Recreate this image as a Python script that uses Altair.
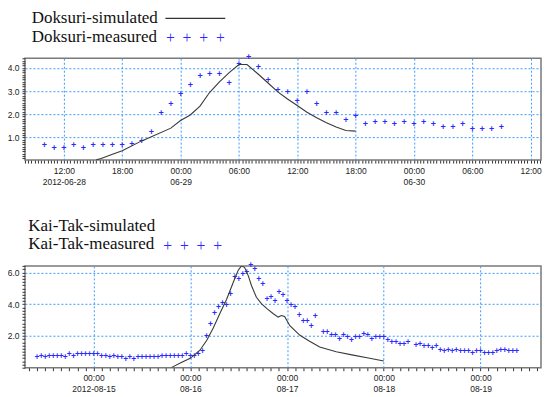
import altair as alt
import pandas as pd

# ---------------- data ----------------
# Doksuri (top panel): hourly measured values starting 2012-06-28 10:00
dk_meas_start = "2012-06-28 10:00"
dk_meas_values = [0.62, 0.49, 0.49, 0.62, 0.49, 0.62, 0.62, 0.62, 0.62, 0.69, 0.82, 1.20, 2.02, 2.40,
                  2.82, 3.22, 3.62, 3.71, 3.71, 3.29, 4.12, 4.42, 4.00, 3.42, 3.00, 2.92, 2.52, 2.92,
                  2.40, 2.02, 2.02, 1.70, 1.90, 1.53, 1.62, 1.62, 1.53, 1.62,
                  1.53, 1.62, 1.53, 1.40, 1.40, 1.53, 1.32, 1.32, 1.32, 1.40]
dk_sim_times = ["2012-06-28 15:20", "2012-06-28 15:50", "2012-06-28 17:00", "2012-06-28 18:00",
                "2012-06-28 20:00", "2012-06-28 21:00", "2012-06-28 23:00", "2012-06-29 00:00",
                "2012-06-29 01:00", "2012-06-29 02:00", "2012-06-29 03:00", "2012-06-29 04:00",
                "2012-06-29 05:00", "2012-06-29 06:00", "2012-06-29 06:50", "2012-06-29 08:00",
                "2012-06-29 09:00", "2012-06-29 10:00", "2012-06-29 11:00", "2012-06-29 12:00",
                "2012-06-29 13:00", "2012-06-29 14:00", "2012-06-29 15:00", "2012-06-29 16:00",
                "2012-06-29 17:00", "2012-06-29 18:00"]
dk_sim_values = [0.03, 0.09, 0.27, 0.42, 0.85, 1.03, 1.40, 1.73, 1.97, 2.35, 2.95, 3.40, 3.80,
                 4.15, 4.15, 3.73, 3.35, 2.97, 2.66, 2.38, 2.09, 1.85, 1.63, 1.45, 1.30, 1.27]

# Kai-Tak (bottom panel): hourly measured values starting 2012-08-14 10:00 (None = missing)
kt_meas_start = "2012-08-14 10:00"
kt_meas_values = [0.59, 0.67, 0.59, 0.67, 0.67, 0.67, 0.67, 0.59, 0.79, 0.67, 0.79, 0.79, 0.79, 0.79,
                  0.79, 0.79, 0.67, 0.67, 0.59, 0.67, 0.59, 0.59, 0.50, 0.59, 0.50, 0.59, 0.59, 0.59,
                  0.59, 0.59, 0.59, 0.67, 0.67, 0.67, 0.67, 0.67, 0.67, 0.79, 0.67, 0.67, 0.79, 0.96,
                  1.92, 2.71, 3.40, 3.75, 4.00, 3.92, 4.59, 5.67, 5.54, 5.84, 6.00, 6.42, 6.13, 5.54,
                  5.21, 4.29, 4.42, 4.13, 4.71, 4.50, 4.13, 3.92, 3.77, 3.29, 2.88, 2.88, 2.58, 3.19,
                  None, 2.21, 2.21, 2.00, 2.00, 1.75, 2.00, 1.88, 1.67, 1.88, 1.88, 2.08, 2.00, 1.75,
                  1.88, 1.88, 1.88, 1.67, 1.58, 1.58, 1.46, 1.46, 1.58, None, 1.38, 1.46, 1.29, 1.29,
                  1.17, 1.29, 1.08, 0.96, 1.08, 0.96, 1.08, 0.96, 0.96, 0.96, 0.88, 0.96, 0.96, 0.88,
                  0.88, 0.88, 0.96, 1.08, 1.08, 0.96, 0.96, 0.96]
kt_sim_base = "2012-08-15 00:00"
kt_sim_hours = [19.4, 21.9, 24.0, 26.4, 28.1, 29.7, 31.4, 33.0, 34.7, 35.9, 36.7, 37.5, 38.4, 39.2,
                40.4, 41.7, 43.1, 44.6, 45.8, 46.6, 47.4, 48.7, 51.2, 53.6, 56.1, 60.2, 64.4, 68.5, 72.0]
kt_sim_values = [0.02, 0.34, 0.59, 1.10, 1.73, 2.50, 3.45, 4.30, 5.40, 6.15, 6.42, 6.31, 5.79, 5.17,
                 4.44, 4.02, 3.71, 3.40, 3.19, 3.29, 3.23, 2.65, 2.04, 1.67, 1.31, 1.00, 0.79, 0.59, 0.42]

legend_top = ["Doksuri-simulated", "Doksuri-measured"]
legend_bottom = ["Kai-Tak-simulated", "Kai-Tak-measured"]
cross_text = "+\u00a0\u00a0+\u00a0\u00a0+\u00a0\u00a0+"

# ---------------- frames ----------------
FMT = "%Y-%m-%dT%H:%M:%S"
dk_meas = pd.DataFrame({"t": pd.date_range(dk_meas_start, periods=len(dk_meas_values), freq="h"),
                        "v": dk_meas_values}).dropna()
dk_meas["t"] = dk_meas["t"].dt.strftime(FMT)
dk_sim = pd.DataFrame({"t": pd.to_datetime(dk_sim_times).strftime(FMT), "v": dk_sim_values})
kt_meas = pd.DataFrame({"t": pd.date_range(kt_meas_start, periods=len(kt_meas_values), freq="h"),
                        "v": kt_meas_values}).dropna()
kt_meas["t"] = kt_meas["t"].dt.strftime(FMT)
kt_sim = pd.DataFrame({"t": (pd.Timestamp(kt_sim_base) + pd.to_timedelta(kt_sim_hours, unit="h"))
                       .strftime(FMT), "v": kt_sim_values})

# ---------------- style ----------------
W, H = 517, 102
BLUE = "#2a2aff"
GRID = "#3d9bff"
LABEL_FONT = "Liberation Sans"
SERIF = "Liberation Serif"


def dt_list(start, end, freq):
    return [alt.DateTime(year=t.year, month=t.month, date=t.day, hours=t.hour, minutes=t.minute)
            for t in pd.date_range(start, end, freq=freq)]


def cond(test, a, b):
    return {"condition": {"test": test, "value": a}, "value": b}


def x_axis(values, major_test, label_expr):
    return alt.Axis(
        title=None, domain=False, values=values, tickCount=1000,
        labelExpr=label_expr, labelOverlap=False, labelFlush=False,
        labelFont=LABEL_FONT, labelFontSize=8.5, labelColor="#222", labelPadding=3,
        labelLineHeight=11, tickColor="#333", tickSize=3,
        grid=True, gridColor=GRID, gridDash=[2, 2], gridWidth=1,
        gridOpacity=cond(major_test, 1, 0),
    )


def y_axis(count, major_test):
    return alt.Axis(
        title=None, domain=False, tickCount=count,
        labelExpr=f"({major_test}) ? format(datum.value, '.1f') : ''",
        labelOverlap=False, labelFlush=False,
        labelFont=LABEL_FONT, labelFontSize=8.5, labelColor="#222", labelPadding=3,
        tickColor="#333", tickSize=3,
        grid=True, gridColor=GRID, gridDash=[2, 2], gridWidth=1,
        gridOpacity=cond(major_test, 1, 0),
    )


def one(text):
    return alt.Chart(pd.DataFrame({"label": [text]}))


def panel(meas, sim, xdom, xaxis, ydom, yaxis, msize, labels, show_line, lx, ly1, ly2, cx, cy):
    xs = alt.Scale(domain=xdom)
    ys = alt.Scale(domain=ydom, nice=False, zero=False)
    pts = alt.Chart(meas).mark_text(text="+", font=LABEL_FONT, fontSize=msize, fontWeight="bold",
                                    color=BLUE, baseline="middle", align="center", dy=-1).encode(
        x=alt.X("t:T", scale=xs, axis=xaxis),
        y=alt.Y("v:Q", scale=ys, axis=yaxis),
    )
    line = alt.Chart(sim).mark_line(color="#3a3a3a", strokeWidth=1.1, clip=True).encode(
        x=alt.X("t:T"),
        y=alt.Y("v:Q"),
    )
    t1 = one(labels[0]).mark_text(font=SERIF, fontSize=17, color="#111", align="left",
                                  baseline="alphabetic").encode(
        text="label:N", x=alt.value(lx), y=alt.value(ly1))
    t2 = one(labels[1]).mark_text(font=SERIF, fontSize=17, color="#111", align="left",
                                  baseline="alphabetic").encode(
        text="label:N", x=alt.value(lx), y=alt.value(ly2))
    crosses = one(cross_text).mark_text(font=SERIF, fontSize=15.7, color=BLUE, align="center",
                                        baseline="middle").encode(
        text="label:N", x=alt.value(cx), y=alt.value(cy))
    layers = [pts, line, t1, t2, crosses]
    if show_line:
        sample = one("line").mark_rule(color="#333", strokeWidth=1.2).encode(
            x=alt.value(cx - 30), x2=alt.value(cx + 30), y=alt.value(ly1 - 5))
        layers.append(sample)
    return alt.layer(*layers).properties(width=W, height=H)


dk_major_x = "minutes(datum.value) == 0 && hours(datum.value) % 6 == 0"
dk_label = ("!(" + dk_major_x + ") ? '' : "
            "(hours(datum.value) == 12 && date(datum.value) == 28) ? ['12:00', '2012-06-28'] : "
            "hours(datum.value) == 0 ? ['00:00', timeFormat(datum.value, '%m-%d')] : "
            "timeFormat(datum.value, '%H:%M')")
kt_major_x = "hours(datum.value) == 0"
kt_label = ("!(" + kt_major_x + ") ? '' : "
            "date(datum.value) == 15 ? ['00:00', '2012-08-15'] : "
            "['00:00', timeFormat(datum.value, '%m-%d')]")

top = panel(
    dk_meas, dk_sim,
    [alt.DateTime(year=2012, month=6, date=28, hours=8, minutes=0),
     alt.DateTime(year=2012, month=6, date=30, hours=13, minutes=4)],
    x_axis(dt_list("2012-06-28 08:00", "2012-06-30 13:00", "20min"), dk_major_x, dk_label),
    [0.02, 4.42],
    y_axis(44, "abs(datum.value - round(datum.value)) < 0.001"),
    9, legend_top, True, 6.7, -35.0, -16.5, 170.7, -20.5,
)

bottom = panel(
    kt_meas, kt_sim,
    [alt.DateTime(year=2012, month=8, date=14, hours=7, minutes=0),
     alt.DateTime(year=2012, month=8, date=19, hours=15, minutes=0)],
    x_axis(dt_list("2012-08-14 08:00", "2012-08-19 14:00", "2h"), kt_major_x, kt_label),
    [0, 6.42],
    y_axis(32, "datum.value > 0 && abs(datum.value / 2 - round(datum.value / 2)) < 0.001"),
    8.5, legend_bottom, False, 3.3, -35.0, -16.6, 168.0, -20.0,
)

chart = alt.vconcat(top, bottom, spacing=29).properties(
    padding={"left": -2, "top": 0, "right": 0, "bottom": 0}
).configure_view(stroke="#7a7a7a", strokeWidth=1.5)

chart.save("out.html", embed_options={"renderer": "svg", "actions": False})
